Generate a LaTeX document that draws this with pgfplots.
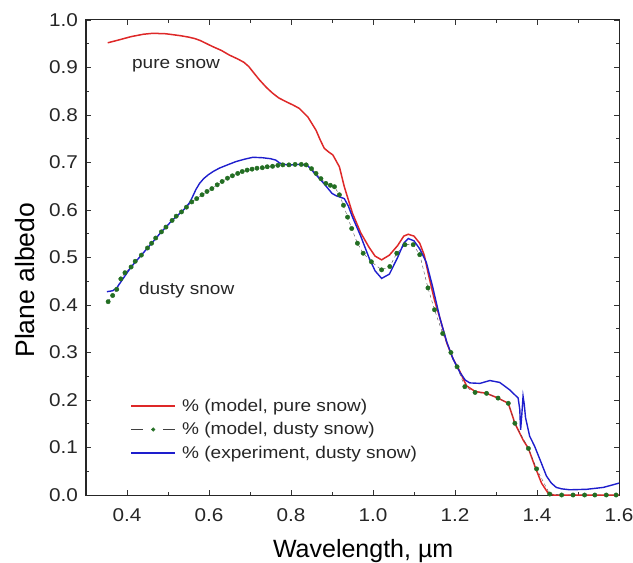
\documentclass[border=0pt]{standalone}
\usepackage{fontspec}
\setmainfont{Liberation Sans}
\newfontfamily\tfont[FakeStretch=1.12]{Liberation Sans}
\usepackage{pgfplots}
\pgfplotsset{compat=1.18}
\definecolor{cred}{RGB}{222,40,40}
\definecolor{cblue}{RGB}{30,30,205}
\definecolor{cgreen}{RGB}{35,110,35}
\begin{document}
\begin{tikzpicture}
\begin{axis}[
  scale only axis, width=533pt, height=475pt,
  xmin=0.3, xmax=1.6, ymin=0, ymax=1.0,
  xtick={0.4,0.6,...,1.6}, ytick={0,0.1,...,1.0},
  minor xtick={0.3,0.5,...,1.5}, minor ytick={0.05,0.15,...,0.95},
  tick align=inside, major tick length=5pt, minor tick length=3pt,
  tick style={black!80, line width=0.9pt},
  axis line style={black!85, line width=1pt},
  /pgf/number format/assume math mode=true,
  xticklabel style={font=\tfont\fontsize{18.5}{20}\selectfont, text=black!85, /pgf/number format/.cd, fixed, fixed zerofill, precision=1},
  yticklabel style={font=\tfont\fontsize{18.5}{20}\selectfont, text=black!85, /pgf/number format/.cd, fixed, fixed zerofill, precision=1},
  xticklabel shift=10pt, yticklabel shift=4.5pt,
  xlabel={Wavelength, µm}, ylabel={Plane albedo},
  xlabel style={font=\fontsize{25}{28}\selectfont, at={(ticklabel cs:0.52)}, anchor=north, yshift=-11pt},
  ylabel style={font=\fontsize{26.5}{28}\selectfont, at={(ticklabel cs:0.452)}, anchor=south, yshift=7.5pt},
  legend style={draw=none, fill=none, at={(rel axis cs:0.0826,0.203)}, anchor=north west, font=\tfont\fontsize{17}{19}\selectfont, row sep=10pt, inner sep=0pt, nodes={inner sep=0pt, text=black!85}, column sep=6pt},
  legend cell align=left,
]
\addplot[cred, line width=1.5pt, forget plot] coordinates {
(0.353,0.952)(0.38,0.958)(0.41,0.965)(0.44,0.970)(0.463,0.972)(0.495,0.971)(0.53,0.967)(0.55,0.964)(0.565,0.961)(0.578,0.957)(0.59,0.952)(0.609,0.944)(0.63,0.936)(0.650,0.926)(0.67,0.918)(0.685,0.911)(0.697,0.902)(0.708,0.890)(0.723,0.874)(0.74,0.858)(0.755,0.846)(0.77,0.836)(0.788,0.828)(0.805,0.821)(0.820,0.814)(0.841,0.796)(0.861,0.768)(0.871,0.748)(0.881,0.730)(0.892,0.722)(0.902,0.716)(0.918,0.691)(0.930,0.649)(0.95,0.593)(0.97,0.552)(0.99,0.522)(1.005,0.503)(1.021,0.495)(1.04,0.505)(1.06,0.525)(1.075,0.545)(1.086,0.549)(1.10,0.545)(1.114,0.530)(1.125,0.505)(1.135,0.465)(1.15,0.41)(1.163,0.373)(1.18,0.320)(1.195,0.287)(1.212,0.260)(1.228,0.230)(1.249,0.218)(1.277,0.214)(1.305,0.204)(1.330,0.193)(1.346,0.151)(1.366,0.116)(1.379,0.098)(1.395,0.060)(1.411,0.025)(1.427,0.004)(1.44,0.0)(1.6,0.0)
};
\addplot[black!70, dashed, line width=0.4pt, mark=*, mark size=2.2pt, mark options={solid, draw=cgreen, fill=cgreen}, forget plot] coordinates {
(0.354,0.407)(0.365,0.420)(0.375,0.433)(0.385,0.455)(0.395,0.468)(0.41,0.480)(0.42,0.492)(0.435,0.505)(0.45,0.520)(0.46,0.530)(0.47,0.541)(0.484,0.554)(0.495,0.564)(0.51,0.578)(0.52,0.587)(0.533,0.596)(0.545,0.606)(0.558,0.617)(0.57,0.624)(0.583,0.632)(0.595,0.639)(0.607,0.645)(0.62,0.653)(0.632,0.660)(0.645,0.667)(0.657,0.672)(0.67,0.677)(0.681,0.681)(0.693,0.684)(0.705,0.686)(0.717,0.688)(0.73,0.689)(0.742,0.691)(0.755,0.692)(0.768,0.694)(0.78,0.695)(0.795,0.695)(0.81,0.696)(0.825,0.696)(0.837,0.695)(0.85,0.687)(0.861,0.677)(0.873,0.666)(0.885,0.656)(0.896,0.652)(0.906,0.649)(0.918,0.632)(0.928,0.610)(0.938,0.585)(0.948,0.561)(0.962,0.530)(0.976,0.509)(0.996,0.491)(1.021,0.474)(1.041,0.481)(1.058,0.509)(1.078,0.527)(1.098,0.527)(1.114,0.506)(1.134,0.436)(1.15,0.39)(1.17,0.34)(1.19,0.30)(1.205,0.27)(1.224,0.228)(1.249,0.216)(1.277,0.214)(1.305,0.204)(1.330,0.193)(1.346,0.151)(1.379,0.098)(1.399,0.055)(1.431,0.002)(1.46,0.0)(1.488,0.0)(1.516,0.0)(1.541,0.0)(1.569,0.0)(1.593,0.0)
};
\addplot[cblue, line width=1.4pt, forget plot] coordinates {
(0.351,0.428)(0.365,0.430)(0.375,0.436)(0.39,0.455)(0.41,0.480)(0.435,0.505)(0.46,0.530)(0.484,0.554)(0.51,0.578)(0.533,0.596)(0.545,0.607)(0.553,0.616)(0.560,0.628)(0.568,0.643)(0.577,0.656)(0.587,0.666)(0.598,0.674)(0.610,0.681)(0.625,0.688)(0.645,0.695)(0.666,0.702)(0.687,0.707)(0.707,0.711)(0.731,0.710)(0.750,0.708)(0.763,0.705)(0.772,0.699)(0.782,0.696)(0.80,0.695)(0.82,0.696)(0.84,0.694)(0.86,0.675)(0.88,0.656)(0.90,0.635)(0.91,0.630)(0.93,0.624)(0.94,0.608)(0.95,0.585)(0.97,0.545)(0.99,0.500)(1.005,0.472)(1.021,0.456)(1.04,0.465)(1.06,0.500)(1.075,0.530)(1.086,0.540)(1.10,0.535)(1.114,0.518)(1.13,0.49)(1.145,0.44)(1.163,0.373)(1.18,0.322)(1.195,0.287)(1.212,0.258)(1.225,0.242)(1.236,0.236)(1.261,0.235)(1.285,0.241)(1.309,0.237)(1.334,0.221)(1.354,0.204)(1.358,0.18)(1.360,0.137)(1.363,0.17)(1.366,0.208)(1.369,0.19)(1.372,0.163)(1.382,0.124)(1.394,0.103)(1.407,0.075)(1.423,0.040)(1.435,0.025)(1.447,0.016)(1.46,0.013)(1.480,0.011)(1.521,0.012)(1.562,0.016)(1.60,0.025)
};
\addlegendimage{legend image code/.code={\draw[cred, line width=1.9pt, solid] (0pt,0pt) -- (44pt,0pt);}}
\addlegendentry{\% (model, pure snow)}
\addlegendimage{legend image code/.code={\draw[black!75, line width=0.9pt, solid] (0pt,0pt) -- (12pt,0pt); \draw[black!75, line width=0.9pt, solid] (32pt,0pt) -- (44pt,0pt); \fill[cgreen] (22pt,0pt) circle (1.8pt);}}
\addlegendentry{\% (model, dusty snow)}
\addlegendimage{legend image code/.code={\draw[cblue, line width=1.9pt, solid] (0pt,0pt) -- (44pt,0pt);}}
\addlegendentry{\% (experiment, dusty snow)}
\node[font=\tfont\fontsize{17}{19}\selectfont, anchor=base west, inner sep=0pt, text=black!85] at (axis cs:0.412,0.898) {pure snow};
\node[font=\tfont\fontsize{17}{19}\selectfont, anchor=base west, inner sep=0pt, text=black!85] at (axis cs:0.429,0.423) {dusty snow};
\coordinate (bl) at (rel axis cs:0,0);
\coordinate (tr) at (rel axis cs:1,1);
\end{axis}
\pgfresetboundingbox
\useasboundingbox ([shift={(-86pt,-67pt)}]bl) rectangle ([shift={(14pt,20pt)}]tr);
\end{tikzpicture}
\end{document}
